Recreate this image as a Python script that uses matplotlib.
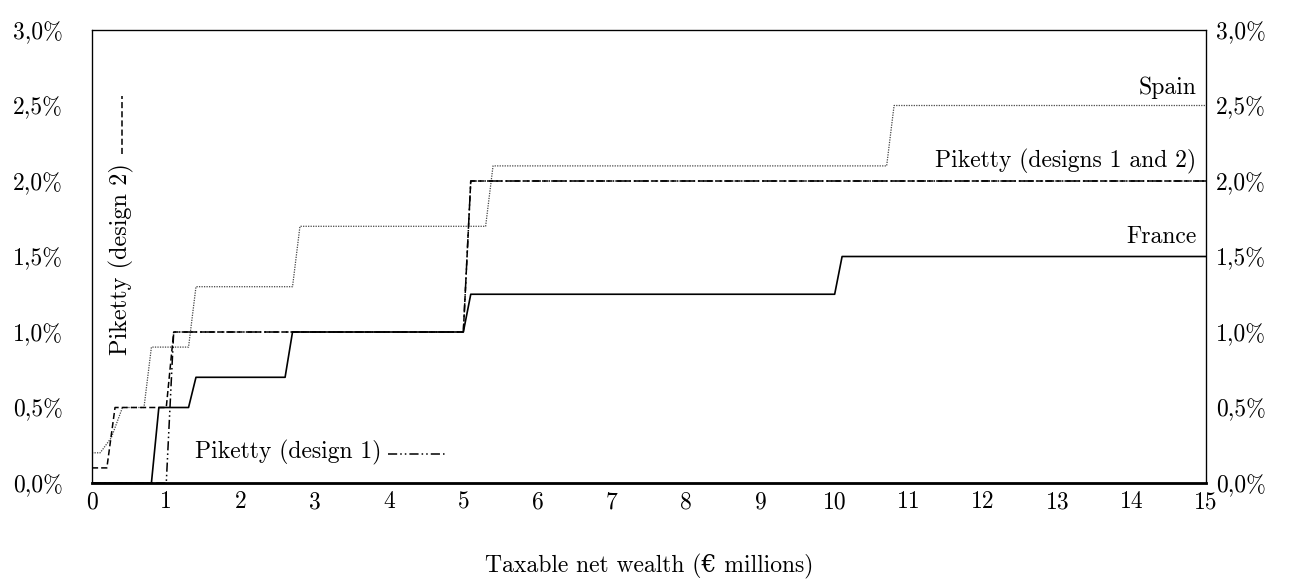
import matplotlib
matplotlib.use('Agg')
import matplotlib.pyplot as plt
from matplotlib.ticker import FuncFormatter

plt.rcParams['font.family'] = ['cmr10', 'DejaVu Serif']
plt.rcParams['axes.unicode_minus'] = False

# wealth in € millions, marginal rate in %
france_x = [0, 0.8, 0.9, 1.3, 1.4, 2.6, 2.7, 5.0, 5.1, 10.0, 10.1, 15]
france_y = [0, 0, 0.5, 0.5, 0.7, 0.7, 1.0, 1.0, 1.25, 1.25, 1.5, 1.5]

spain_x = [0, 0.11, 0.26, 0.41, 0.7, 0.8, 1.3, 1.4, 2.7, 2.8, 5.3, 5.4, 10.7, 10.8, 15]
spain_y = [0.2, 0.2, 0.3, 0.5, 0.5, 0.9, 0.9, 1.3, 1.3, 1.7, 1.7, 2.1, 2.1, 2.5, 2.5]

piketty1_x = [0, 1.0, 1.1, 5.0, 5.1, 15]
piketty1_y = [0, 0, 1.0, 1.0, 2.0, 2.0]

piketty2_x = [0, 0.2, 0.31, 1.0, 1.1, 5.0, 5.1, 15]
piketty2_y = [0.1, 0.1, 0.5, 0.5, 1.0, 1.0, 2.0, 2.0]

x_ticks = list(range(0, 16))
y_ticks = [0, 0.5, 1.0, 1.5, 2.0, 2.5, 3.0]

style_france = dict(color='black', lw=1.2, linestyle='-')
style_spain = dict(color='#444444', lw=0.9, linestyle=(0, (1, 1)))
style_p1 = dict(color='black', lw=1.1, linestyle=(0, (6, 2, 1, 2, 1, 2)))
style_p2 = dict(color='black', lw=1.1, linestyle=(0, (4, 2)))

fig = plt.figure(figsize=(12.9, 5.79), dpi=100)
ax = fig.add_axes([92 / 1290, 96 / 579, 1114 / 1290, 453 / 579])

ax.plot(spain_x, spain_y, **style_spain)
ax.plot(piketty2_x, piketty2_y, **style_p2)
ax.plot(piketty1_x, piketty1_y, **style_p1)
ax.plot(france_x, france_y, **style_france)

ax.set_xlim(0, 15)
ax.set_ylim(0, 3.0)
ax.set_xticks(x_ticks)
ax.set_yticks(y_ticks)

pct = FuncFormatter(lambda v, p: f'{v:.1f}'.replace('.', ',') + '%')
ax.yaxis.set_major_formatter(pct)
ax.tick_params(axis='both', length=0, labelsize=17)
ax.tick_params(axis='y', pad=21)
ax.tick_params(axis='x', pad=6)
ax.spines['bottom'].set_linewidth(2.0)
for s in ['left', 'right', 'top']:
    ax.spines[s].set_linewidth(0.9)

ax2 = ax.twinx()
ax2.set_ylim(ax.get_ylim())
ax2.set_yticks(y_ticks)
ax2.yaxis.set_major_formatter(pct)
ax2.tick_params(axis='y', length=0, labelsize=17, pad=7)

ax.set_xlabel('Taxable net wealth (€ millions)', fontsize=17, labelpad=29)

# line labels
ax.text(14.87, 2.62, 'Spain', ha='right', va='center', fontsize=17)
ax.text(14.87, 2.13, 'Piketty (designs 1 and 2)', ha='right', va='center', fontsize=17)
ax.text(14.87, 1.63, 'France', ha='right', va='center', fontsize=17)

ax.text(1.39, 0.2, 'Piketty (design 1)', ha='left', va='center', fontsize=17)
ax.plot([3.99, 4.78], [0.19, 0.19], **style_p1)

ax.text(0.40, 0.85, 'Piketty (design 2)', ha='center', va='bottom', rotation=90, fontsize=17.5)
ax.plot([0.40, 0.40], [2.18, 2.56], **style_p2)

fig.savefig('out.png', dpi=100)
